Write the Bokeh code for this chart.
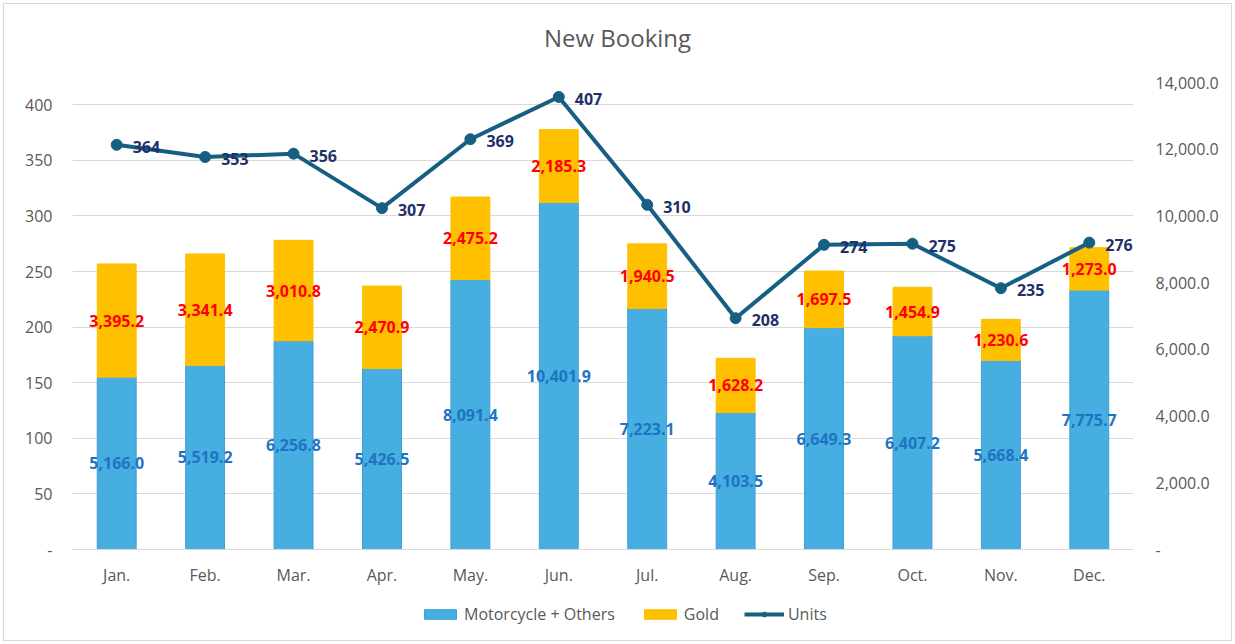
from bokeh.plotting import figure
from bokeh.layouts import column
from bokeh.models import (Range1d, LinearAxis, FixedTicker, NumeralTickFormatter,
                          ColumnDataSource, Legend, LegendItem, Div)
from bokeh.core.properties import value
from bokeh.embed import file_html
from bokeh.resources import INLINE

title_text = "New Booking"
months = ["Jan.", "Feb.", "Mar.", "Apr.", "May.", "Jun.", "Jul.", "Aug.", "Sep.", "Oct.", "Nov.", "Dec."]
moto = [5166.0, 5519.2, 6256.8, 5426.5, 8091.4, 10401.9, 7223.1, 4103.5, 6649.3, 6407.2, 5668.4, 7775.7]
gold = [3395.2, 3341.4, 3010.8, 2470.9, 2475.2, 2185.3, 1940.5, 1628.2, 1697.5, 1454.9, 1230.6, 1273.0]
units = [364, 353, 356, 307, 369, 407, 310, 208, 274, 275, 235, 276]
left_ticks = [0, 50, 100, 150, 200, 250, 300, 350, 400]
right_ticks = [0, 2000, 4000, 6000, 8000, 10000, 12000, 14000]
series_names = ["Motorcycle + Others", "Gold", "Units"]

FONT = "Open Sans"
GRAY = "#595959"
BLUE = "#46AEE0"
GOLD = "#FFC000"
LINE = "#156082"

src = ColumnDataSource(dict(
    month=months, moto=moto, gold=gold, units=units,
    moto_mid=[m / 2 for m in moto],
    gold_mid=[m + g / 2 for m, g in zip(moto, gold)],
    moto_lbl=[f"{m:,.1f}" for m in moto],
    gold_lbl=[f"{g:,.1f}" for g in gold],
    units_lbl=[f"{u}" for u in units],
))

# title strip
title = Div(text=title_text, width=1227, height=68, margin=0,
            styles={"font-family": "Open Sans", "font-size": "24px", "color": GRAY,
                    "text-align": "center", "line-height": "68px", "width": "1227px"})

p = figure(x_range=months, y_range=Range1d(0, 420), width=1227, height=528,
           output_backend="svg", toolbar_location=None,
           min_border_left=68, min_border_right=98, min_border_top=10, min_border_bottom=51)
p.outline_line_color = None
p.background_fill_color = "white"
p.border_fill_color = "white"
p.extra_y_ranges = {"right": Range1d(0, 14000)}

# bars
bars = p.vbar_stack(["moto", "gold"], x="month", width=0.44, source=src,
                    fill_color=[BLUE, GOLD], line_color=["#3E9FD3", GOLD], line_width=1,
                    y_range_name="right")

# line
ln = p.line(x="month", y="units", source=src, line_width=4, line_color=LINE)
mk = p.scatter(x="month", y="units", source=src, size=11, fill_color=LINE, line_color=LINE)

# labels
p.text(x="month", y="moto_mid", text="moto_lbl", source=src, y_range_name="right",
       text_align="center", text_baseline="middle", text_font=value(FONT),
       text_font_style="bold", text_font_size="16px", text_color="#1F74C1")
p.text(x="month", y="gold_mid", text="gold_lbl", source=src, y_range_name="right",
       text_align="center", text_baseline="middle", text_font=value(FONT),
       text_font_style="bold", text_font_size="16px", text_color="#FF0000")
p.text(x="month", y="units", text="units_lbl", source=src, x_offset=16, y_offset=2,
       text_align="left", text_baseline="middle", text_font=value(FONT),
       text_font_style="bold", text_font_size="16px", text_color="#1F3068")

# axes
ly = p.yaxis[0]
ly.ticker = FixedTicker(ticks=left_ticks)
ly.major_label_overrides = {0: "-"}
ly.axis_line_color = None
ly.major_tick_line_color = None
ly.minor_tick_line_color = None
ly.major_label_text_font = FONT
ly.major_label_text_font_size = "16px"
ly.major_label_text_color = GRAY
ly.major_label_standoff = 14

ry = LinearAxis(y_range_name="right", ticker=FixedTicker(ticks=right_ticks),
                formatter=NumeralTickFormatter(format="0,0.0"))
ry.major_label_overrides = {0: "-"}
ry.axis_line_color = None
ry.major_tick_line_color = None
ry.minor_tick_line_color = None
ry.major_label_text_font = FONT
ry.major_label_text_font_size = "16px"
ry.major_label_text_color = GRAY
ry.major_label_standoff = 16
p.add_layout(ry, "right")

xa = p.xaxis[0]
xa.axis_line_color = "#D9D9D9"
xa.axis_line_width = 1
xa.major_tick_line_color = None
xa.minor_tick_line_color = None
xa.major_label_text_font = FONT
xa.major_label_text_font_size = "16px"
xa.major_label_text_color = GRAY
xa.major_label_standoff = 8

p.xgrid.visible = False
p.ygrid.ticker = FixedTicker(ticks=left_ticks)
p.ygrid.grid_line_color = "#D9D9D9"
p.ygrid.grid_line_width = 1

# legend strip (separate small figure below the chart, same series styles;
# its swatch renderers hold one point lying outside the strip's visible range)
leg = figure(width=1227, height=40, x_range=Range1d(0, 1), y_range=Range1d(0, 1),
             output_backend="svg", toolbar_location=None, x_axis_type=None, y_axis_type=None,
             min_border=0, min_border_left=0, min_border_right=0,
             min_border_top=0, min_border_bottom=0)
leg.outline_line_color = None
leg.grid.visible = False
dummy = ColumnDataSource(dict(x=[-10], y=[-10], top=[-10]))
lr1 = leg.vbar(x="x", top="top", width=0.1, source=dummy, fill_color=BLUE, line_color="#3E9FD3")
lr2 = leg.vbar(x="x", top="top", width=0.1, source=dummy, fill_color=GOLD, line_color=GOLD)
lr3 = leg.line(x="x", y="y", source=dummy, line_width=4, line_color=LINE)
lr4 = leg.scatter(x="x", y="y", source=dummy, size=11, fill_color=LINE, line_color=LINE)

legend = Legend(items=[
    LegendItem(label=series_names[0], renderers=[lr1]),
    LegendItem(label=series_names[1], renderers=[lr2]),
    LegendItem(label=series_names[2], renderers=[lr3, lr4]),
], orientation="horizontal", location=(348, 15), border_line_color=None,
    background_fill_alpha=0, label_text_font=FONT, label_text_font_size="16px",
    label_text_color=GRAY, glyph_width=40, glyph_height=12, spacing=25,
    label_standoff=4, padding=4, margin=0)
leg.add_layout(legend)

lay = column(title, p, leg, spacing=0)
lay.styles = {"border": "1px solid #D9D9D9", "margin": "3px", "background-color": "white"}

open("out.html", "w").write(file_html(lay, INLINE))
